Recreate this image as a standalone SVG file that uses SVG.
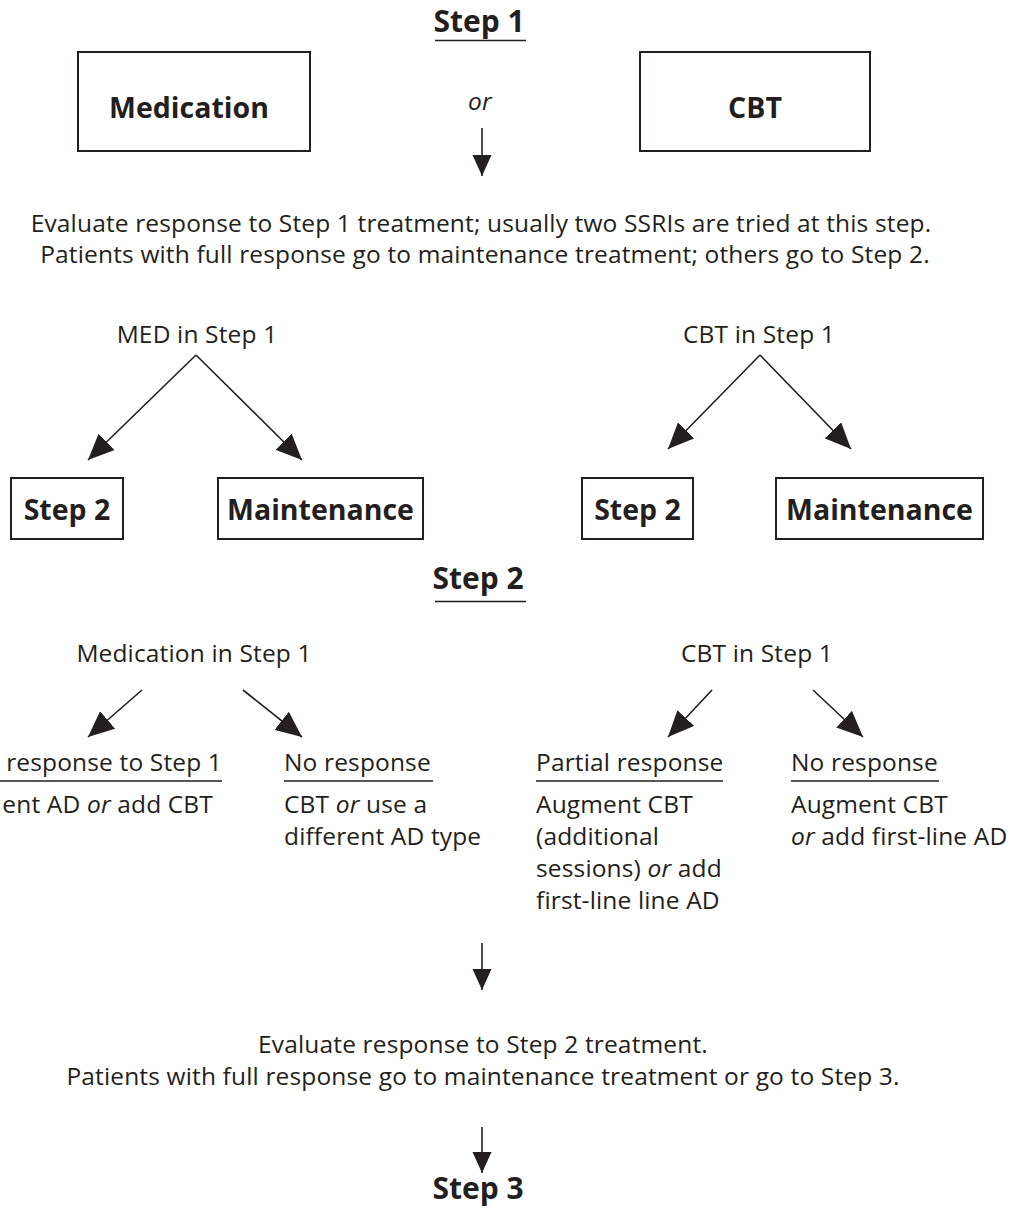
<svg xmlns="http://www.w3.org/2000/svg" width="1011" height="1210" viewBox="0 0 1011 1210">
<defs>
<style>
text{font-family:"Open Sans","Liberation Sans",sans-serif;fill:#231f20}
.t{font-size:24.5px;letter-spacing:0.15px}
.c{text-anchor:middle}
.e{text-anchor:end}
.h{font-size:30px;font-weight:bold;text-anchor:middle}
.b{font-size:28.5px;font-weight:bold;text-anchor:middle}
.box{fill:#fff;stroke:#231f20;stroke-width:2}
.ln{stroke:#231f20;stroke-width:1.6;fill:none}
.ul{stroke:#231f20;stroke-width:1.6}
.a1{marker-end:url(#big)}
.a2{marker-end:url(#small)}
</style>
<marker id="big" markerUnits="userSpaceOnUse" markerWidth="27" markerHeight="23" refX="26" refY="11.5" orient="auto" viewBox="0 0 27 23">
<path d="M0,0 L26,11.5 L0,23 z" fill="#231f20"/>
</marker>
<marker id="small" markerUnits="userSpaceOnUse" markerWidth="22" markerHeight="20" refX="21" refY="9.5" orient="auto" viewBox="0 0 22 20">
<path d="M0,0 L21,9.5 L0,19 z" fill="#231f20"/>
</marker>
</defs>
<rect width="1011" height="1210" fill="#fff"/>

<g id="step1-title">
<text class="h" x="479" y="32">Step 1</text>
<line class="ul" x1="435" y1="40.5" x2="526" y2="40.5"/>
</g>
<g id="medication">
<rect class="box" x="78" y="52" width="232" height="99"/>
<text class="b" x="189" y="118" font-size="29">Medication</text>
</g>
<g id="or"><text class="t c" x="480" y="110" font-style="italic">or</text></g>
<g id="cbt">
<rect class="box" x="640" y="52" width="230" height="99"/>
<text class="b" x="755" y="118">CBT</text>
</g>
<g id="eval1">
<text class="t c" x="481" y="232">Evaluate response to Step 1 treatment; usually two SSRIs are tried at this step.</text>
<text class="t c" x="485" y="263">Patients with full response go to maintenance treatment; others go to Step 2.</text>
</g>

<g id="med-step1"><text class="t c" x="197" y="343">MED in Step 1</text></g>
<g id="cbt-step1"><text class="t c" x="759" y="343">CBT in Step 1</text></g>
<g id="med-step2">
<rect class="box" x="11" y="478" width="112" height="61"/>
<text class="b" x="67" y="520">Step 2</text>
</g>
<g id="med-maint">
<rect class="box" x="218" y="478" width="205" height="61"/>
<text class="b" x="320.5" y="520">Maintenance</text>
</g>
<g id="cbt-step2">
<rect class="box" x="582" y="478" width="111" height="61"/>
<text class="b" x="637.5" y="520">Step 2</text>
</g>
<g id="cbt-maint">
<rect class="box" x="776" y="478" width="207" height="61"/>
<text class="b" x="879.5" y="520">Maintenance</text>
</g>

<g id="step2-title">
<text class="h" x="478" y="589">Step 2</text>
<line class="ul" x1="435" y1="601.5" x2="526" y2="601.5"/>
</g>
<g id="med-in-step1"><text class="t c" x="194" y="662">Medication in Step 1</text></g>
<g id="cbt-in-step1"><text class="t c" x="757" y="662">CBT in Step 1</text></g>

<g id="med-partial">
<text class="t e" x="222" y="771">response to Step 1</text>
<line class="ul" x1="0" y1="781" x2="222" y2="781"/>
<text class="t e" x="213" y="813">ent AD <tspan font-style="italic">or</tspan> add CBT</text>
</g>
<g id="med-none">
<text class="t" x="284" y="771">No response</text>
<line class="ul" x1="284" y1="781" x2="433" y2="781"/>
<text class="t" x="284" y="813">CBT <tspan font-style="italic">or</tspan> use a</text>
<text class="t" x="284" y="845">different AD type</text>
</g>
<g id="cbt-partial">
<text class="t" x="536" y="771">Partial response</text>
<line class="ul" x1="536" y1="781" x2="723" y2="781"/>
<text class="t" x="536" y="813">Augment CBT</text>
<text class="t" x="536" y="845">(additional</text>
<text class="t" x="536" y="877">sessions) <tspan font-style="italic">or</tspan> add</text>
<text class="t" x="536" y="909">first-line line AD</text>
</g>
<g id="cbt-none">
<text class="t" x="791" y="771">No response</text>
<line class="ul" x1="791" y1="781" x2="939" y2="781"/>
<text class="t" x="791" y="813">Augment CBT</text>
<text class="t" x="791" y="845"><tspan font-style="italic">or</tspan> add first-line AD</text>
</g>

<g id="eval2">
<text class="t c" x="483" y="1053">Evaluate response to Step 2 treatment.</text>
<text class="t c" x="483" y="1085">Patients with full response go to maintenance treatment or go to Step 3.</text>
</g>
<g id="step3"><text class="h" x="478" y="1199">Step 3</text></g>

<g id="connectors">
<line class="ln a2" x1="482" y1="128" x2="482" y2="176"/>
<line class="ln a1" x1="196" y1="355" x2="88" y2="460"/>
<line class="ln a1" x1="196" y1="355" x2="302" y2="460"/>
<line class="ln a1" x1="760" y1="355" x2="668" y2="449"/>
<line class="ln a1" x1="760" y1="355" x2="851" y2="449"/>
<line class="ln a1" x1="142" y1="690" x2="88" y2="737"/>
<line class="ln a1" x1="243" y1="690" x2="302" y2="737"/>
<line class="ln a1" x1="712" y1="690" x2="668" y2="737"/>
<line class="ln a1" x1="813" y1="690" x2="863" y2="737"/>
<line class="ln a2" x1="482" y1="943" x2="482" y2="990"/>
<line class="ln a2" x1="482" y1="1127" x2="482" y2="1173"/>
</g>
</svg>
